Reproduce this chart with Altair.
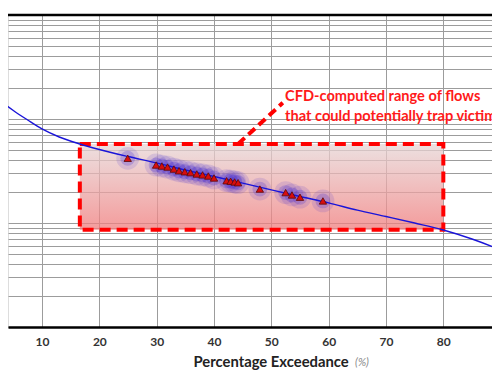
import altair as alt
import pandas as pd

# Flow-duration curve (percentage exceedance vs flow, log scale)
curve_x = [1, 2.5, 5, 7.5, 10, 13, 16.6, 20, 25, 30, 35, 40, 45, 50, 55, 60, 65, 70, 75, 80, 85, 90, 95]
curve_y = [1820, 1540, 1208, 978, 802, 671, 575, 509, 436, 378, 323, 280, 242, 208, 180, 156, 133, 115.5, 100, 85.7, 70.2, 55, 41.2]

# Observed / computed points (triangles)
tri_x = [24.95, 29.9, 30.9, 31.9, 33.0, 33.9, 34.9, 35.9, 37.0, 38.0, 39.0, 40.0,
         42.2, 42.9, 43.6, 44.2, 48.0, 52.5, 53.6, 55.0, 59.0]
tri_y = [419, 361, 353, 345, 330, 318, 311, 305, 296, 290, 283, 271,
         255, 252, 248, 244, 212, 196, 186, 177, 163]

# CFD range box
box_x = [16.6, 80.0]
box_y = [86, 575]

# Annotation
note_lines = ["CFD-computed range of flows", "that could potentially trap victim(s)"]
note_x = [52.4, 52.4]
note_y = [1637, 1052]
arrow_x = [44.2, 52.0]
arrow_y = [575, 1430]

x_ticks = [10, 20, 30, 40, 50, 60, 70, 80]
y_grid = [m * 10 ** e for e in range(1, 4) for m in range(1, 10)] + [10000]

X_DOMAIN = [4.07, 88.49]
Y_DOMAIN = [10, 10000]

xs = alt.Scale(domain=X_DOMAIN, nice=False, zero=False)
ys = alt.Scale(type="log", domain=Y_DOMAIN, nice=False)

curve_df = pd.DataFrame({"x": curve_x, "y": curve_y})
tri_df = pd.DataFrame({"x": tri_x, "y": tri_y})
box_df = pd.DataFrame({"x": [box_x[0]], "x2": [box_x[1]], "y": [box_y[0]], "y2": [box_y[1]]})
note_df = pd.DataFrame({"x": note_x, "y": note_y, "t": note_lines})
arrow_df = pd.DataFrame({"x": [arrow_x[0]], "x2": [arrow_x[1]], "y": [arrow_y[0]], "y2": [arrow_y[1]]})

x_axis = alt.Axis(values=x_ticks, grid=True, gridColor="#9c9c9c", gridWidth=1,
                  ticks=False, domainColor="#000000", domainWidth=2.5,
                  labelFont="Lato", labelFontWeight="bold", labelFontSize=12,
                  labelColor="#333333", labelPadding=9,
                  title="Percentage Exceedance", titleFont="Lato", titleFontWeight="bold",
                  titleFontSize=14.8, titleColor="#222222", titleX=185, titleY=35,
                  titleAlign="left", titleBaseline="middle", titleAnchor="start")
y_axis = alt.Axis(values=y_grid, grid=True, gridColor="#9c9c9c", gridWidth=1,
                  labels=False, ticks=False, domain=False, title=None)

base_grid = alt.Chart(curve_df).mark_line(opacity=0).encode(
    x=alt.X("x:Q", scale=xs, axis=x_axis),
    y=alt.Y("y:Q", scale=ys, axis=y_axis),
)

top_rule = alt.Chart(pd.DataFrame({"y": [Y_DOMAIN[1]]})).mark_rule(
    color="black", strokeWidth=2.5
).encode(y=alt.Y("y:Q", scale=ys))

box = alt.Chart(box_df).mark_rect(
    fill=alt.Gradient(gradient="linear", x1=0, x2=0, y1=0, y2=1,
                      stops=[alt.GradientStop(color="#e6d6d6", offset=0),
                             alt.GradientStop(color="#f07a7a", offset=1)]),
    fillOpacity=0.75, stroke="#ff0000", strokeWidth=4, strokeDash=[11, 6], clip=True
).encode(x=alt.X("x:Q", scale=xs), x2="x2", y=alt.Y("y:Q", scale=ys), y2="y2")

glow_big = alt.Chart(tri_df).mark_circle(color="#3522d2", size=520, opacity=0.13, clip=True).encode(
    x=alt.X("x:Q", scale=xs), y=alt.Y("y:Q", scale=ys))
glow_small = alt.Chart(tri_df).mark_circle(color="#3522d2", size=220, opacity=0.22, clip=True).encode(
    x=alt.X("x:Q", scale=xs), y=alt.Y("y:Q", scale=ys))

curve = alt.Chart(curve_df).mark_line(color="#1a14d8", strokeWidth=1.4, clip=True, interpolate="monotone").encode(
    x=alt.X("x:Q", scale=xs), y=alt.Y("y:Q", scale=ys))

tris = alt.Chart(tri_df).mark_point(shape="triangle-up", filled=True, fill="#d80d0d",
                                    stroke="#5a0a0a", strokeWidth=0.8, size=55, opacity=1, clip=True).encode(
    x=alt.X("x:Q", scale=xs), y=alt.Y("y:Q", scale=ys))

arrow = alt.Chart(arrow_df).mark_rule(color="#ff0000", strokeWidth=4, strokeDash=[9, 5]).encode(
    x=alt.X("x:Q", scale=xs), x2="x2", y=alt.Y("y:Q", scale=ys), y2="y2")

note = alt.Chart(note_df).mark_text(align="left", baseline="middle", font="Lato", fontWeight="bold",
                                    fontSize=14.6, color="#ff1a1a").encode(
    x=alt.X("x:Q", scale=xs), y=alt.Y("y:Q", scale=ys), text="t:N")

pct = alt.Chart(pd.DataFrame({"x": [64.6], "t": ["(%)"]})).mark_text(
    align="left", baseline="middle", font="Lato", fontStyle="italic", fontSize=11, color="#8a8a8a"
).encode(x=alt.X("x:Q", scale=xs), y=alt.value(348), text="t:N")

chart = alt.layer(base_grid, box, glow_big, glow_small, curve, tris, top_rule, arrow, note, pct).properties(
    width=484, height=312,
    autosize=alt.AutoSizeParams(type="none"),
    padding={"left": 0, "top": 7, "right": 0, "bottom": 44},
).configure_view(stroke=None).configure(background="white")

chart.save("out.html", embed_options={"renderer": "svg", "actions": False})
